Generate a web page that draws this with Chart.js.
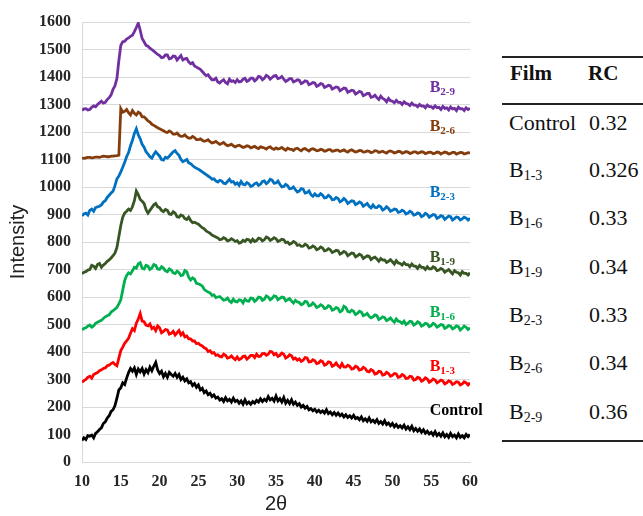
<!DOCTYPE html>
<html><head><meta charset="utf-8">
<script src="https://cdn.jsdelivr.net/npm/chart.js@4/dist/chart.umd.min.js"></script>
<style>
body{margin:0;background:#fff;width:643px;height:516px;overflow:hidden;position:relative;font-family:"Liberation Serif","Times New Roman",serif;color:#111;}
#wrap{position:absolute;left:0;top:0;width:500px;height:516px;}
.hl{position:absolute;left:502px;width:141px;height:2px;background:#222;}
.cell{position:absolute;height:30px;line-height:30px;font-size:22px;white-space:nowrap;}
.cell.b{font-weight:bold;font-size:21px;}
.cell sub{font-size:14px;vertical-align:-3px;line-height:0;}
</style></head><body>
<div id="wrap"><canvas id="c"></canvas></div>
<div id="tbl"></div>
<script>
// 2θ angles (degrees), 0.25° steps
const twoTheta = [
10,10.25,10.5,10.75,11,11.25,11.5,11.75,12,12.25,12.5,12.75,13,13.25,13.5,13.75,14,14.25,14.5,14.75,
15,15.25,15.5,15.75,16,16.25,16.5,16.75,17,17.25,17.5,17.75,18,18.25,18.5,18.75,19,19.25,19.5,19.75,
20,20.25,20.5,20.75,21,21.25,21.5,21.75,22,22.25,22.5,22.75,23,23.25,23.5,23.75,24,24.25,24.5,24.75,
25,25.25,25.5,25.75,26,26.25,26.5,26.75,27,27.25,27.5,27.75,28,28.25,28.5,28.75,29,29.25,29.5,29.75,
30,30.25,30.5,30.75,31,31.25,31.5,31.75,32,32.25,32.5,32.75,33,33.25,33.5,33.75,34,34.25,34.5,34.75,
35,35.25,35.5,35.75,36,36.25,36.5,36.75,37,37.25,37.5,37.75,38,38.25,38.5,38.75,39,39.25,39.5,39.75,
40,40.25,40.5,40.75,41,41.25,41.5,41.75,42,42.25,42.5,42.75,43,43.25,43.5,43.75,44,44.25,44.5,44.75,
45,45.25,45.5,45.75,46,46.25,46.5,46.75,47,47.25,47.5,47.75,48,48.25,48.5,48.75,49,49.25,49.5,49.75,
50,50.25,50.5,50.75,51,51.25,51.5,51.75,52,52.25,52.5,52.75,53,53.25,53.5,53.75,54,54.25,54.5,54.75,
55,55.25,55.5,55.75,56,56.25,56.5,56.75,57,57.25,57.5,57.75,58,58.25,58.5,58.75,59,59.25,59.5,59.75,
60];

const control = [
78,88,82,96,94,98,88,104,110,118,124,140,146,160,168,184,190,205,232,262,
270,288,282,305,325,340,330,342,318,338,328,340,320,336,325,345,332,348,362,335,
322,330,310,322,308,326,318,312,322,308,318,300,308,295,302,288,292,278,285,272,
280,262,268,252,258,245,250,238,244,232,236,225,230,220,234,222,228,218,232,220,
224,214,222,210,226,212,218,210,220,214,224,218,230,220,228,222,238,226,232,222,
240,222,230,218,234,214,224,212,226,210,218,206,212,200,206,196,202,190,194,186,
192,182,188,180,186,178,190,176,182,172,180,170,178,168,174,164,172,162,168,160,
170,158,162,154,164,150,157,148,160,146,152,144,154,140,147,138,150,136,142,132,
140,128,136,126,132,124,134,120,128,118,130,114,122,112,120,108,117,105,112,102,
108,98,110,96,104,94,106,92,100,90,104,92,98,88,102,90,96,88,100,92,
100];

const b13 = [
290,296,300,308,312,305,318,322,325,332,335,340,342,350,352,358,362,355,350,378,
405,418,432,440,450,468,485,478,505,520,540,512,510,498,495,502,485,490,478,495,
488,470,475,482,480,465,468,475,462,470,478,462,470,455,458,448,448,440,440,430,
432,425,422,415,412,402,405,396,398,388,390,384,382,392,388,378,380,386,378,372,
382,372,376,384,385,374,380,388,388,380,392,384,385,394,395,388,392,402,400,390,
395,384,388,396,392,378,382,390,386,374,378,370,375,366,370,380,378,364,365,372,
368,358,360,368,365,352,355,364,362,348,352,360,350,344,358,346,345,352,348,338,
340,348,345,334,336,344,340,330,328,336,332,320,322,330,328,316,318,326,322,312,
315,322,320,308,310,318,314,304,305,312,310,298,300,308,305,294,298,306,302,290,
295,302,298,288,292,298,295,284,288,295,292,282,286,292,290,280,284,292,288,280,
288];

const b16 = [
480,486,488,494,498,490,495,504,508,512,515,522,528,532,535,545,550,556,562,575,
590,625,660,678,688,684,695,708,705,720,725,705,702,715,712,700,705,718,715,702,
700,710,705,695,692,702,698,688,685,694,688,678,680,696,692,672,662,670,665,650,
648,645,640,628,622,618,615,606,608,598,600,602,595,588,590,596,585,580,592,584,
582,590,588,578,592,586,585,596,595,584,590,600,598,588,592,604,600,590,595,604,
602,590,595,600,598,586,590,594,585,578,588,582,580,572,575,584,582,568,570,578,
572,562,565,572,568,558,560,568,565,552,555,562,558,546,550,566,562,548,545,552,
548,536,540,548,545,532,535,540,530,524,528,535,532,518,522,528,525,514,518,524,
515,508,520,512,510,504,512,500,505,512,510,498,502,510,506,494,498,504,502,492,
496,504,500,490,494,500,498,486,490,496,494,484,488,495,492,480,486,494,490,482,
488];

const b19 = [
685,690,692,698,700,715,712,704,718,722,708,716,722,730,735,742,750,760,780,820,
860,890,905,912,920,915,928,950,985,972,955,948,940,918,905,915,925,935,940,928,
925,915,910,918,915,902,900,910,905,892,890,898,895,885,882,890,878,870,872,868,
865,858,852,848,840,836,832,825,822,818,815,808,810,816,812,804,806,812,808,802,
805,796,798,806,802,810,808,800,810,802,805,814,812,804,808,818,815,806,810,816,
812,802,805,810,808,798,800,792,795,802,798,788,790,784,785,792,788,778,780,786,
782,772,775,782,778,768,770,776,772,762,765,770,768,756,760,766,762,750,755,760,
758,746,750,756,752,740,745,750,748,736,742,745,738,730,740,734,735,726,730,736,
728,720,732,724,722,716,725,718,718,710,720,712,712,704,715,708,708,700,710,702,
702,710,706,696,698,704,700,690,695,700,692,684,696,690,688,680,692,686,686,680,
688];

const b23 = [
895,902,905,898,915,920,912,925,928,930,935,945,950,962,970,978,985,1005,1030,1040,
1055,1072,1090,1110,1125,1150,1170,1195,1212,1190,1175,1155,1145,1128,1120,1110,1105,1118,1128,1120,
1112,1100,1098,1108,1105,1112,1120,1128,1132,1122,1115,1100,1092,1096,1100,1088,1085,1078,1072,1068,
1065,1060,1055,1050,1045,1040,1035,1028,1030,1022,1018,1024,1022,1014,1012,1020,1028,1018,1020,1010,
1015,1006,1020,1010,1008,1016,1012,1002,1005,1012,1015,1006,1010,1020,1022,1012,1018,1028,1025,1014,
1015,1022,1010,1000,1002,1010,1005,994,995,1000,990,982,985,994,992,978,980,986,972,966,
975,968,968,976,970,960,962,970,965,954,955,962,958,946,950,958,952,940,945,950,
948,936,940,946,942,930,935,940,930,924,935,926,925,932,928,916,920,928,922,912,
915,920,918,908,910,916,912,902,905,912,908,898,900,906,903,892,896,904,900,890,
895,900,898,886,890,896,893,882,888,894,892,880,885,891,889,880,884,890,887,880,
886];

const b26 = [
1105,1104,1106,1108,1108,1106,1107,1109,1109,1108,1110,1112,1111,1110,1110,1112,1112,1113,1114,1116,
1285,1272,1275,1282,1270,1262,1278,1268,1262,1272,1268,1255,1255,1248,1240,1236,1228,1224,1220,1215,
1212,1208,1205,1200,1198,1204,1200,1192,1192,1196,1188,1184,1185,1190,1182,1178,1178,1184,1180,1172,
1172,1175,1170,1166,1168,1172,1165,1160,1162,1166,1160,1155,1158,1162,1155,1150,1152,1156,1150,1146,
1150,1152,1148,1144,1146,1150,1148,1142,1145,1148,1143,1140,1146,1144,1142,1138,1144,1146,1140,1137,
1142,1138,1140,1144,1138,1134,1141,1138,1137,1133,1139,1141,1136,1132,1138,1140,1135,1131,1137,1139,
1136,1132,1133,1137,1135,1130,1132,1136,1136,1130,1131,1134,1134,1129,1132,1135,1130,1127,1133,1135,
1131,1127,1129,1133,1132,1127,1128,1131,1130,1125,1127,1132,1131,1126,1128,1130,1126,1123,1129,1131,
1128,1124,1126,1130,1129,1123,1125,1129,1127,1122,1124,1128,1128,1123,1125,1128,1127,1121,1124,1127,
1126,1121,1123,1127,1126,1120,1124,1127,1125,1120,1122,1126,1126,1120,1123,1126,1125,1120,1122,1125,
1124];

const b29 = [
1278,1284,1285,1280,1282,1290,1295,1292,1300,1306,1312,1305,1308,1318,1325,1335,1355,1368,1395,1460,
1515,1528,1530,1538,1542,1548,1552,1565,1580,1596,1570,1540,1528,1515,1512,1505,1500,1494,1488,1482,
1478,1470,1472,1480,1480,1466,1468,1476,1475,1462,1470,1478,1462,1466,1468,1455,1448,1452,1440,1436,
1432,1428,1420,1412,1405,1408,1398,1390,1390,1396,1382,1378,1385,1390,1380,1375,1392,1384,1386,1380,
1390,1382,1384,1392,1395,1384,1388,1396,1396,1386,1392,1402,1400,1390,1395,1406,1402,1392,1398,1404,
1405,1394,1396,1402,1392,1384,1388,1394,1394,1382,1385,1390,1388,1376,1380,1386,1384,1372,1375,1380,
1378,1366,1370,1376,1374,1362,1365,1370,1368,1356,1360,1364,1362,1350,1355,1360,1358,1344,1348,1352,
1350,1338,1342,1348,1345,1332,1335,1340,1340,1326,1328,1334,1325,1318,1330,1322,1318,1310,1322,1314,
1312,1306,1315,1308,1308,1300,1310,1304,1302,1296,1305,1298,1298,1292,1300,1294,1295,1288,1298,1292,
1292,1286,1295,1288,1290,1282,1293,1286,1288,1280,1291,1284,1286,1278,1290,1284,1285,1278,1288,1282,
1286];

const seriesNames = ['Control','B1-3','B1-6','B1-9','B2-3','B2-6','B2-9'];
const seriesValues = [control,b13,b16,b19,b23,b26,b29];
const seriesColors = ['#000000','#FF0000','#00B050','#375623','#0070C0','#843C0C','#7030A0'];

// in-plot label text (main letter + subscript) and anchors in data units
const labelMain = ['Control','B','B','B','B','B','B'];
const labelSub  = ['','1-3','1-6','1-9','2-3','2-6','2-9'];
const labelAnchorX = [54.8,54.8,54.8,54.8,54.8,54.8,54.8];
const labelAnchorY = [185,345,542,742,978,1218,1360];

// table
const filmMain = ['Control','B','B','B','B','B','B'];
const filmSub  = ['','1-3','1-6','1-9','2-3','2-6','2-9'];
const rcValues = ['0.32','0.326','0.33','0.34','0.33','0.34','0.36'];

const datasets = seriesValues.map((vals,i)=>({
  label: seriesNames[i],
  data: vals.map((v,j)=>({x: twoTheta[j], y: v})),
  borderColor: seriesColors[i],
  backgroundColor: seriesColors[i],
  borderWidth: 2.8,
  pointRadius: 0,
  tension: 0,
  fill: false
}));

const labelPlugin = {
  id: 'seriesLabels',
  afterDatasetsDraw(chart){
    const ctx = chart.ctx;
    const xs = chart.scales.x, ys = chart.scales.y;
    ctx.save();
    ctx.textBaseline = 'middle';
    ctx.textAlign = 'left';
    for (let i=0;i<labelMain.length;i++){
      const px = xs.getPixelForValue(labelAnchorX[i]);
      const py = ys.getPixelForValue(labelAnchorY[i]);
      ctx.fillStyle = seriesColors[i];
      ctx.font = 'bold 16px "Liberation Serif"';
      ctx.fillText(labelMain[i], px, py);
      if (labelSub[i]){
        const w = ctx.measureText(labelMain[i]).width;
        ctx.font = 'bold 11px "Liberation Serif"';
        ctx.fillText(labelSub[i], px + w, py + 4);
      }
    }
    ctx.restore();
  }
};

new Chart(document.getElementById('c'), {
  type: 'line',
  data: { datasets },
  plugins: [labelPlugin],
  options: {
    responsive: true,
    maintainAspectRatio: false,
    animation: false,
    layout: { padding: { top: 22, right: 30, left: 0, bottom: 0 } },
    plugins: { legend: { display: false }, tooltip: { enabled: false } },
    scales: {
      x: {
        type: 'linear', min: 10, max: 60,
        afterFit(s){ s.height = 54; },
        ticks: { stepSize: 5, color: '#262626', padding: 10, maxRotation: 0,
                 font: { family: 'Liberation Serif', size: 16, weight: 'bold' } },
        grid: { display: false, drawTicks: false },
        border: { display: true, color: '#d9d9d9', width: 1 },
        title: { display: true, text: '2θ', color: '#222', padding: { top: 0, bottom: 0 },
                 font: { family: 'Liberation Sans', size: 20 } }
      },
      y: {
        min: 0, max: 1600,
        afterFit(s){ s.width = 82; },
        ticks: { stepSize: 100, color: '#262626', padding: 11,
                 callback: (v) => String(v),
                 font: { family: 'Liberation Serif', size: 16, weight: 'bold' } },
        grid: { color: '#d9d9d9', drawTicks: false, lineWidth: 1 },
        border: { display: true, color: '#d9d9d9', width: 1 },
        title: { display: true, text: 'Intensity', color: '#222', padding: { top: 6, bottom: 0 },
                 font: { family: 'Liberation Sans', size: 20 } }
      }
    }
  }
});

// Table on the right
const tbl = document.getElementById('tbl');
function addLine(top){ const d=document.createElement('div'); d.className='hl'; d.style.top=top+'px'; tbl.appendChild(d); }
function addCell(left, center, html, bold){
  const d=document.createElement('div'); d.className='cell'+(bold?' b':'');
  d.style.left=left+'px'; d.style.top=(center-15)+'px'; d.innerHTML=html; tbl.appendChild(d);
}
addLine(56); addLine(103); addLine(440);
addCell(510, 73, 'Film', true);
addCell(588, 73, 'RC', true);
const rowCenters = [123,170,218,267,315,363,412];
for (let i=0;i<filmMain.length;i++){
  addCell(509, rowCenters[i], filmMain[i] + (filmSub[i] ? '<sub>'+filmSub[i]+'</sub>' : ''), false);
  addCell(589, rowCenters[i], rcValues[i], false);
}
</script>
</body></html>
